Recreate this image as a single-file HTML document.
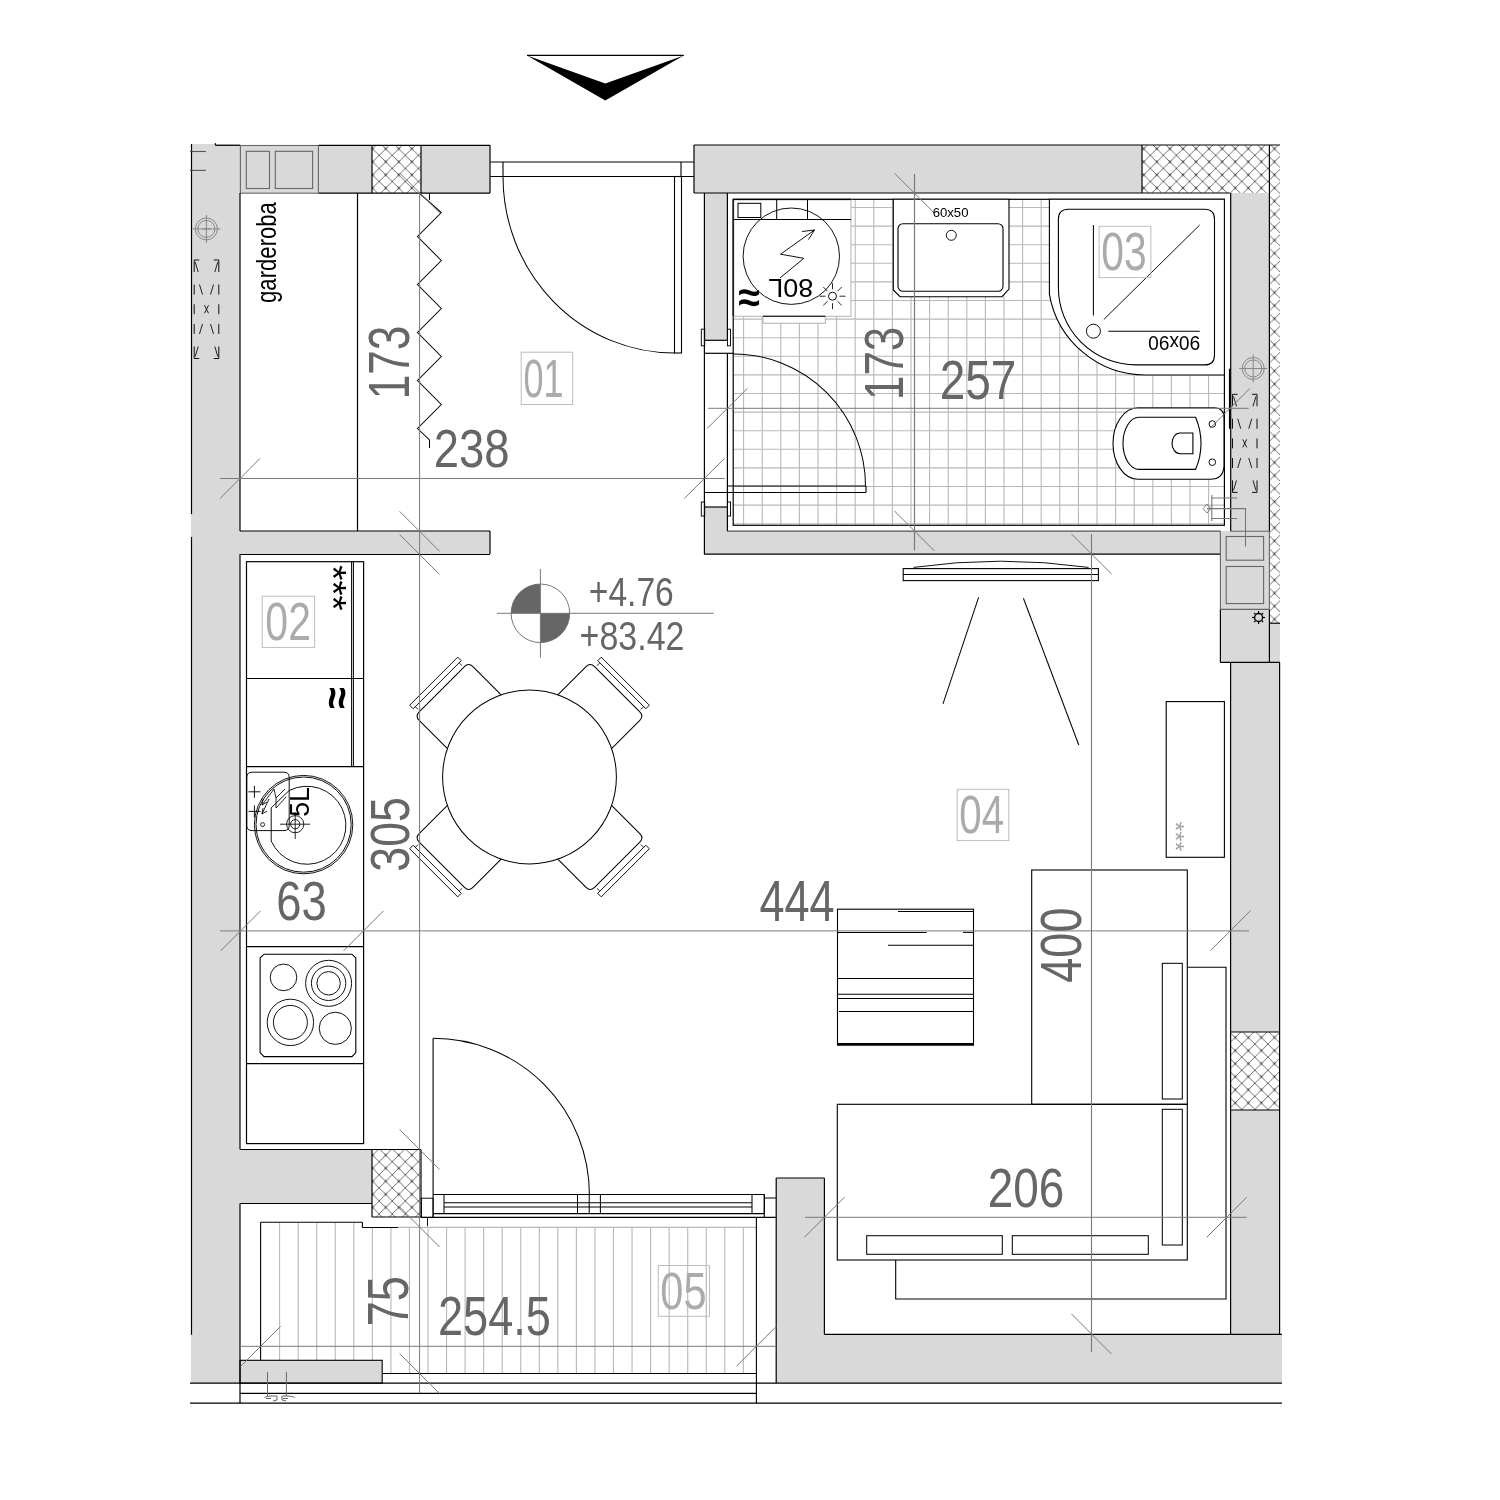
<!DOCTYPE html>
<html><head><meta charset="utf-8"><style>
html,body{margin:0;padding:0;background:#fff;width:1500px;height:1500px;overflow:hidden}
svg{display:block}
text{font-family:"Liberation Sans",sans-serif}
svg{will-change:transform}
</style></head><body>
<svg width="1500" height="1500" viewBox="0 0 1500 1500">
<defs>
<pattern id="hatch" x="6.67" y="5.03" width="13.07" height="13.07" patternUnits="userSpaceOnUse">
<path d="M-1,-1 L14.07,14.07 M14.07,-1 L-1,14.07" stroke="#555" stroke-width="0.85" fill="none"/>
<circle cx="0" cy="0" r="1.3" fill="#555"/><circle cx="13.07" cy="0" r="1.3" fill="#555"/><circle cx="0" cy="13.07" r="1.3" fill="#555"/><circle cx="13.07" cy="13.07" r="1.3" fill="#555"/>
</pattern>
</defs>
<rect x="0" y="0" width="1500" height="1500" fill="#fff"/>
<path d="M527,55.4 L605.3,100.4 L683.8,55.4 L605.3,83.5 Z" fill="#000"/>
<line x1="527.00" y1="55.40" x2="683.80" y2="55.40" stroke="#000" stroke-width="1.105"/>
<rect x="191.00" y="144.00" width="49.00" height="1239.00" fill="#d9d9d9"/>
<rect x="240.00" y="145.00" width="250.00" height="48.00" fill="#d9d9d9"/>
<rect x="694.00" y="145.00" width="586.00" height="48.00" fill="#d9d9d9"/>
<rect x="1230.00" y="193.00" width="39.00" height="338.00" fill="#d9d9d9"/>
<rect x="1220.00" y="531.00" width="49.00" height="131.00" fill="#d9d9d9"/>
<rect x="1269.00" y="623.00" width="11.00" height="39.00" fill="#d9d9d9"/>
<rect x="1230.00" y="662.00" width="50.00" height="672.00" fill="#d9d9d9"/>
<rect x="776.00" y="1334.00" width="506.00" height="49.00" fill="#d9d9d9"/>
<rect x="776.00" y="1178.00" width="48.00" height="156.00" fill="#d9d9d9"/>
<rect x="704.00" y="193.00" width="23.00" height="147.00" fill="#d9d9d9"/>
<rect x="704.00" y="507.00" width="23.00" height="47.00" fill="#d9d9d9"/>
<rect x="727.00" y="531.00" width="493.00" height="23.00" fill="#d9d9d9"/>
<rect x="240.00" y="531.00" width="250.00" height="23.00" fill="#d9d9d9"/>
<rect x="240.00" y="1149.50" width="132.00" height="54.00" fill="#d9d9d9"/>
<rect x="240.00" y="1360.00" width="142.00" height="23.00" fill="#d9d9d9"/>
<rect x="372.00" y="145.00" width="49.00" height="48.00" fill="#fff"/>
<rect x="372.00" y="145.00" width="49.00" height="48.00" fill="url(#hatch)"/>
<rect x="1142.00" y="145.00" width="127.00" height="48.00" fill="#fff"/>
<rect x="1142.00" y="145.00" width="127.00" height="48.00" fill="url(#hatch)"/>
<rect x="1269.00" y="145.00" width="11.00" height="478.00" fill="#fff"/>
<rect x="1269.00" y="145.00" width="11.00" height="478.00" fill="url(#hatch)"/>
<rect x="1230.00" y="1032.00" width="50.00" height="78.00" fill="#fff"/>
<rect x="1230.00" y="1032.00" width="50.00" height="78.00" fill="url(#hatch)"/>
<rect x="372.00" y="1149.50" width="49.00" height="67.50" fill="#fff"/>
<rect x="372.00" y="1149.50" width="49.00" height="67.50" fill="url(#hatch)"/>
<line x1="191.50" y1="144.00" x2="191.50" y2="514.00" stroke="#000" stroke-width="1.19"/>
<line x1="191.50" y1="537.00" x2="191.50" y2="1334.70" stroke="#000" stroke-width="1.19"/>
<line x1="215.30" y1="145.30" x2="240.40" y2="145.30" stroke="#000" stroke-width="1.19"/>
<line x1="318.40" y1="145.30" x2="490.00" y2="145.30" stroke="#000" stroke-width="1.19"/>
<line x1="490.00" y1="145.00" x2="490.00" y2="193.00" stroke="#000" stroke-width="1.19"/>
<line x1="215.30" y1="143.00" x2="215.30" y2="145.30" stroke="#000" stroke-width="1.02"/>
<line x1="318.40" y1="193.20" x2="490.00" y2="193.20" stroke="#000" stroke-width="1.19"/>
<rect x="240.40" y="145.50" width="78.00" height="47.70" fill="none" stroke="#666" stroke-width="1.1"/>
<rect x="246.30" y="151.30" width="23.20" height="37.20" fill="none" stroke="#666" stroke-width="1.1"/>
<rect x="275.30" y="151.30" width="37.30" height="37.20" fill="none" stroke="#666" stroke-width="1.1"/>
<line x1="372.00" y1="145.00" x2="372.00" y2="193.00" stroke="#000" stroke-width="1.19"/>
<line x1="421.00" y1="145.00" x2="421.00" y2="193.00" stroke="#000" stroke-width="1.19"/>
<line x1="190.00" y1="151.50" x2="205.90" y2="151.50" stroke="#555" stroke-width="1.1"/>
<line x1="190.00" y1="170.40" x2="205.90" y2="170.40" stroke="#555" stroke-width="1.1"/>
<line x1="240.00" y1="193.00" x2="240.00" y2="531.00" stroke="#000" stroke-width="1.19"/>
<line x1="240.00" y1="554.00" x2="240.00" y2="1149.50" stroke="#000" stroke-width="1.19"/>
<line x1="240.00" y1="1203.50" x2="240.00" y2="1403.00" stroke="#000" stroke-width="1.19"/>
<line x1="240.00" y1="531.00" x2="490.00" y2="531.00" stroke="#000" stroke-width="1.19"/>
<line x1="490.00" y1="531.00" x2="490.00" y2="554.00" stroke="#000" stroke-width="1.19"/>
<line x1="240.00" y1="554.50" x2="490.00" y2="554.50" stroke="#000" stroke-width="1.19"/>
<line x1="240.00" y1="1149.50" x2="421.00" y2="1149.50" stroke="#000" stroke-width="1.19"/>
<line x1="372.00" y1="1149.50" x2="372.00" y2="1217.00" stroke="#000" stroke-width="1.19"/>
<line x1="421.00" y1="1149.50" x2="421.00" y2="1217.00" stroke="#000" stroke-width="1.19"/>
<line x1="240.00" y1="1203.50" x2="372.00" y2="1203.50" stroke="#000" stroke-width="1.19"/>
<line x1="372.00" y1="1217.00" x2="421.00" y2="1217.00" stroke="#000" stroke-width="1.19"/>
<line x1="694.00" y1="145.00" x2="1280.00" y2="145.00" stroke="#000" stroke-width="1.19"/>
<line x1="694.00" y1="145.00" x2="694.00" y2="193.00" stroke="#000" stroke-width="1.19"/>
<line x1="694.00" y1="193.00" x2="1230.00" y2="193.00" stroke="#000" stroke-width="1.19"/>
<line x1="1142.00" y1="145.00" x2="1142.00" y2="193.00" stroke="#000" stroke-width="1.19"/>
<line x1="1269.40" y1="145.00" x2="1269.40" y2="531.20" stroke="#000" stroke-width="1.19"/>
<line x1="1269.40" y1="531.20" x2="1269.40" y2="609.40" stroke="#666" stroke-width="1.1"/>
<line x1="1269.40" y1="609.40" x2="1269.40" y2="662.40" stroke="#000" stroke-width="1.19"/>
<line x1="704.40" y1="193.00" x2="704.40" y2="554.50" stroke="#000" stroke-width="1.19"/>
<line x1="727.40" y1="193.00" x2="727.40" y2="340.30" stroke="#000" stroke-width="1.19"/>
<line x1="704.40" y1="340.30" x2="727.40" y2="340.30" stroke="#000" stroke-width="1.19"/>
<line x1="727.40" y1="353.30" x2="727.40" y2="507.00" stroke="#000" stroke-width="1.19"/>
<rect x="701.30" y="329.20" width="3.40" height="16.60" fill="none" stroke="#000" stroke-width="0.935"/>
<rect x="727.50" y="329.20" width="3.00" height="16.60" fill="none" stroke="#000" stroke-width="0.935"/>
<line x1="704.40" y1="353.30" x2="733.20" y2="353.30" stroke="#000" stroke-width="1.19"/>
<line x1="704.40" y1="507.00" x2="727.40" y2="507.00" stroke="#000" stroke-width="1.19"/>
<line x1="727.40" y1="507.00" x2="727.40" y2="531.20" stroke="#000" stroke-width="1.19"/>
<rect x="701.30" y="502.00" width="3.40" height="14.00" fill="none" stroke="#000" stroke-width="0.935"/>
<rect x="727.50" y="502.00" width="3.00" height="14.00" fill="none" stroke="#000" stroke-width="0.935"/>
<line x1="727.40" y1="531.20" x2="1220.40" y2="531.20" stroke="#555" stroke-width="1.2"/>
<line x1="704.40" y1="554.20" x2="1220.40" y2="554.20" stroke="#000" stroke-width="1.19"/>
<line x1="1230.70" y1="193.00" x2="1230.70" y2="531.20" stroke="#000" stroke-width="1.19"/>
<line x1="1220.40" y1="531.20" x2="1220.40" y2="609.40" stroke="#666" stroke-width="1.1"/>
<line x1="1220.40" y1="609.40" x2="1220.40" y2="662.40" stroke="#000" stroke-width="1.19"/>
<line x1="1220.40" y1="662.40" x2="1280.00" y2="662.40" stroke="#000" stroke-width="1.19"/>
<line x1="1220.40" y1="609.40" x2="1269.40" y2="609.40" stroke="#666" stroke-width="1.1"/>
<line x1="1230.70" y1="531.20" x2="1269.40" y2="531.20" stroke="#666" stroke-width="1.1"/>
<rect x="1226.20" y="536.50" width="37.40" height="23.70" fill="none" stroke="#666" stroke-width="1.1"/>
<rect x="1226.20" y="566.50" width="37.40" height="37.10" fill="none" stroke="#666" stroke-width="1.1"/>
<line x1="1269.40" y1="623.20" x2="1280.00" y2="623.20" stroke="#000" stroke-width="1.19"/>
<line x1="1230.60" y1="662.40" x2="1230.60" y2="1334.30" stroke="#000" stroke-width="1.19"/>
<line x1="1279.60" y1="662.40" x2="1279.60" y2="1334.30" stroke="#000" stroke-width="1.19"/>
<line x1="1230.60" y1="1032.00" x2="1279.60" y2="1032.00" stroke="#000" stroke-width="1.19"/>
<line x1="1230.60" y1="1110.00" x2="1279.60" y2="1110.00" stroke="#000" stroke-width="1.19"/>
<line x1="824.40" y1="1334.30" x2="1282.00" y2="1334.30" stroke="#000" stroke-width="1.19"/>
<line x1="824.40" y1="1178.00" x2="824.40" y2="1334.30" stroke="#000" stroke-width="1.19"/>
<line x1="776.20" y1="1178.00" x2="824.40" y2="1178.00" stroke="#000" stroke-width="1.19"/>
<line x1="776.20" y1="1178.00" x2="776.20" y2="1383.20" stroke="#000" stroke-width="1.19"/>
<line x1="190.00" y1="1383.20" x2="1282.00" y2="1383.20" stroke="#000" stroke-width="1.19"/>
<line x1="190.00" y1="1403.20" x2="1282.00" y2="1403.20" stroke="#000" stroke-width="1.19"/>
<line x1="240.00" y1="1393.30" x2="756.40" y2="1393.30" stroke="#000" stroke-width="1.19"/>
<line x1="743.60" y1="199.30" x2="743.60" y2="525.30" stroke="#b8b8b8" stroke-width="1.1"/>
<line x1="762.20" y1="199.30" x2="762.20" y2="525.30" stroke="#b8b8b8" stroke-width="1.1"/>
<line x1="780.80" y1="199.30" x2="780.80" y2="525.30" stroke="#b8b8b8" stroke-width="1.1"/>
<line x1="799.40" y1="199.30" x2="799.40" y2="525.30" stroke="#b8b8b8" stroke-width="1.1"/>
<line x1="818.00" y1="199.30" x2="818.00" y2="525.30" stroke="#b8b8b8" stroke-width="1.1"/>
<line x1="836.60" y1="199.30" x2="836.60" y2="525.30" stroke="#b8b8b8" stroke-width="1.1"/>
<line x1="855.20" y1="199.30" x2="855.20" y2="525.30" stroke="#b8b8b8" stroke-width="1.1"/>
<line x1="873.80" y1="199.30" x2="873.80" y2="525.30" stroke="#b8b8b8" stroke-width="1.1"/>
<line x1="892.40" y1="199.30" x2="892.40" y2="525.30" stroke="#b8b8b8" stroke-width="1.1"/>
<line x1="911.00" y1="199.30" x2="911.00" y2="525.30" stroke="#b8b8b8" stroke-width="1.1"/>
<line x1="929.60" y1="199.30" x2="929.60" y2="525.30" stroke="#b8b8b8" stroke-width="1.1"/>
<line x1="948.20" y1="199.30" x2="948.20" y2="525.30" stroke="#b8b8b8" stroke-width="1.1"/>
<line x1="966.80" y1="199.30" x2="966.80" y2="525.30" stroke="#b8b8b8" stroke-width="1.1"/>
<line x1="985.40" y1="199.30" x2="985.40" y2="525.30" stroke="#b8b8b8" stroke-width="1.1"/>
<line x1="1004.00" y1="199.30" x2="1004.00" y2="525.30" stroke="#b8b8b8" stroke-width="1.1"/>
<line x1="1022.60" y1="199.30" x2="1022.60" y2="525.30" stroke="#b8b8b8" stroke-width="1.1"/>
<line x1="1041.20" y1="199.30" x2="1041.20" y2="525.30" stroke="#b8b8b8" stroke-width="1.1"/>
<line x1="1059.80" y1="199.30" x2="1059.80" y2="525.30" stroke="#b8b8b8" stroke-width="1.1"/>
<line x1="1078.40" y1="199.30" x2="1078.40" y2="525.30" stroke="#b8b8b8" stroke-width="1.1"/>
<line x1="1097.00" y1="199.30" x2="1097.00" y2="525.30" stroke="#b8b8b8" stroke-width="1.1"/>
<line x1="1115.60" y1="199.30" x2="1115.60" y2="525.30" stroke="#b8b8b8" stroke-width="1.1"/>
<line x1="1134.20" y1="199.30" x2="1134.20" y2="525.30" stroke="#b8b8b8" stroke-width="1.1"/>
<line x1="1152.80" y1="199.30" x2="1152.80" y2="525.30" stroke="#b8b8b8" stroke-width="1.1"/>
<line x1="1171.40" y1="199.30" x2="1171.40" y2="525.30" stroke="#b8b8b8" stroke-width="1.1"/>
<line x1="1190.00" y1="199.30" x2="1190.00" y2="525.30" stroke="#b8b8b8" stroke-width="1.1"/>
<line x1="1208.60" y1="199.30" x2="1208.60" y2="525.30" stroke="#b8b8b8" stroke-width="1.1"/>
<line x1="733.20" y1="207.50" x2="1224.40" y2="207.50" stroke="#b8b8b8" stroke-width="1.1"/>
<line x1="733.20" y1="226.10" x2="1224.40" y2="226.10" stroke="#b8b8b8" stroke-width="1.1"/>
<line x1="733.20" y1="244.70" x2="1224.40" y2="244.70" stroke="#b8b8b8" stroke-width="1.1"/>
<line x1="733.20" y1="263.30" x2="1224.40" y2="263.30" stroke="#b8b8b8" stroke-width="1.1"/>
<line x1="733.20" y1="281.90" x2="1224.40" y2="281.90" stroke="#b8b8b8" stroke-width="1.1"/>
<line x1="733.20" y1="300.50" x2="1224.40" y2="300.50" stroke="#b8b8b8" stroke-width="1.1"/>
<line x1="733.20" y1="319.10" x2="1224.40" y2="319.10" stroke="#b8b8b8" stroke-width="1.1"/>
<line x1="733.20" y1="337.70" x2="1224.40" y2="337.70" stroke="#b8b8b8" stroke-width="1.1"/>
<line x1="733.20" y1="356.30" x2="1224.40" y2="356.30" stroke="#b8b8b8" stroke-width="1.1"/>
<line x1="733.20" y1="374.90" x2="1224.40" y2="374.90" stroke="#b8b8b8" stroke-width="1.1"/>
<line x1="733.20" y1="393.50" x2="1224.40" y2="393.50" stroke="#b8b8b8" stroke-width="1.1"/>
<line x1="733.20" y1="412.10" x2="1224.40" y2="412.10" stroke="#b8b8b8" stroke-width="1.1"/>
<line x1="733.20" y1="430.70" x2="1224.40" y2="430.70" stroke="#b8b8b8" stroke-width="1.1"/>
<line x1="733.20" y1="449.30" x2="1224.40" y2="449.30" stroke="#b8b8b8" stroke-width="1.1"/>
<line x1="733.20" y1="467.90" x2="1224.40" y2="467.90" stroke="#b8b8b8" stroke-width="1.1"/>
<line x1="733.20" y1="486.50" x2="1224.40" y2="486.50" stroke="#b8b8b8" stroke-width="1.1"/>
<line x1="733.20" y1="505.10" x2="1224.40" y2="505.10" stroke="#b8b8b8" stroke-width="1.1"/>
<line x1="733.20" y1="523.70" x2="1224.40" y2="523.70" stroke="#b8b8b8" stroke-width="1.1"/>
<rect x="733.20" y="199.30" width="491.20" height="326.00" fill="none" stroke="#000" stroke-width="1.19"/>
<rect x="733.80" y="199.90" width="117.20" height="116.40" fill="#fff" stroke="#b8b8b8" stroke-width="1.1"/>
<line x1="733.20" y1="199.30" x2="851.00" y2="199.30" stroke="#000" stroke-width="1.19"/>
<line x1="733.20" y1="199.30" x2="733.20" y2="316.30" stroke="#000" stroke-width="1.19"/>
<line x1="733.20" y1="219.50" x2="851.00" y2="219.50" stroke="#000" stroke-width="1.02"/>
<rect x="738.00" y="203.30" width="22.80" height="14.20" fill="none" stroke="#000" stroke-width="1.02"/>
<line x1="776.70" y1="199.30" x2="776.70" y2="219.50" stroke="#000" stroke-width="1.02"/>
<line x1="807.50" y1="199.30" x2="807.50" y2="219.50" stroke="#000" stroke-width="1.02"/>
<circle cx="791.30" cy="256.20" r="48.20" fill="none" stroke="#000" stroke-width="0.935"/>
<path d="M780,278 L803.8,258.3 L780.5,254.2 L814.5,230 M814.5,230 L802,231.5 M814.5,230 L808.5,239.5" fill="none" stroke="#000" stroke-width="0.935"/>
<rect x="763.00" y="316.30" width="62.30" height="7.00" fill="#fff" stroke="#b8b8b8" stroke-width="1.1"/>
<line x1="763.00" y1="316.30" x2="825.30" y2="316.30" stroke="#000" stroke-width="1.02"/>
<circle cx="832.50" cy="296.20" r="4.00" fill="none" stroke="#000" stroke-width="0.935"/>
<line x1="839.50" y1="296.20" x2="845.50" y2="296.20" stroke="#000" stroke-width="0.85"/>
<line x1="837.45" y1="301.15" x2="841.69" y2="305.39" stroke="#000" stroke-width="0.85"/>
<line x1="832.50" y1="303.20" x2="832.50" y2="309.20" stroke="#000" stroke-width="0.85"/>
<line x1="827.55" y1="301.15" x2="823.31" y2="305.39" stroke="#000" stroke-width="0.85"/>
<line x1="825.50" y1="296.20" x2="819.50" y2="296.20" stroke="#000" stroke-width="0.85"/>
<line x1="827.55" y1="291.25" x2="823.31" y2="287.01" stroke="#000" stroke-width="0.85"/>
<line x1="832.50" y1="289.20" x2="832.50" y2="283.20" stroke="#000" stroke-width="0.85"/>
<line x1="837.45" y1="291.25" x2="841.69" y2="287.01" stroke="#000" stroke-width="0.85"/>
<path d="M893.3,199.3 H1009 V289 L1002,296.7 H900 L893.3,290 Z" fill="#fff" stroke="#000" stroke-width="1.105"/>
<rect x="898.00" y="223.70" width="105.00" height="67.60" fill="#fff" stroke="#000" stroke-width="1.105" rx="5"/>
<circle cx="951.30" cy="235.30" r="5.00" fill="none" stroke="#000" stroke-width="0.935"/>
<path d="M1049.4,199.3 H1224.4 V375 H1145.5 A97.6 97.6 0 0 1 1049.4 294.3 Z" fill="#fff" stroke="#000" stroke-width="1.105"/>
<path d="M1068.4,209.2 H1204.5 Q1214.5,209.2 1214.5,219.2 V354.9 Q1214.5,364.9 1204.5,364.9 H1136.3 A77.9 77.2 0 0 1 1058.4 287.7 V219.2 Q1058.4,209.2 1068.4,209.2 Z" fill="#fff" stroke="#000" stroke-width="1.105"/>
<line x1="1093.40" y1="225.00" x2="1093.40" y2="315.40" stroke="#000" stroke-width="1.02"/>
<circle cx="1093.40" cy="331.20" r="7.00" fill="none" stroke="#000" stroke-width="0.935"/>
<line x1="1108.30" y1="331.20" x2="1199.70" y2="331.20" stroke="#000" stroke-width="1.02"/>
<line x1="1103.80" y1="319.50" x2="1199.70" y2="225.00" stroke="#000" stroke-width="0.935"/>
<path d="M1138,407.8 H1214 Q1224,407.8 1224,418 V465 Q1224,479.3 1210,479.3 H1138 A25 35.75 0 0 1 1138 407.8 Z" fill="#fff" stroke="#000" stroke-width="1.105"/>
<path d="M1139,417.3 H1195.6 Q1201,430 1201,443.5 Q1201,457 1195.6,469.4 H1139 A16 26 0 0 1 1139 417.3 Z" fill="none" stroke="#000" stroke-width="1.105"/>
<path d="M1192.9,433 H1180 A8 10.35 0 0 0 1180 453.7 H1192.9 Z" fill="none" stroke="#000" stroke-width="1.105"/>
<circle cx="1212.30" cy="424.00" r="3.30" fill="none" stroke="#000" stroke-width="0.935"/>
<circle cx="1212.30" cy="462.20" r="3.30" fill="none" stroke="#000" stroke-width="0.935"/>
<path d="M733.2,354 A132 132 0 0 1 865.5 486" fill="none" stroke="#000" stroke-width="1.02"/>
<line x1="727.40" y1="486.00" x2="866.00" y2="486.00" stroke="#000" stroke-width="1.105"/>
<line x1="704.40" y1="492.50" x2="866.00" y2="492.50" stroke="#000" stroke-width="1.105"/>
<line x1="866.00" y1="486.00" x2="866.00" y2="492.50" stroke="#000" stroke-width="1.105"/>
<path d="M1211.8,495 V521 M1211.8,498 H1237 M1211.8,518.5 H1237 M1207,508.6 H1245.5 V546.4" fill="none" stroke="#777" stroke-width="1.1"/>
<path d="M1207,504 L1203,508.6 L1207,513 L1211,508.6 Z" fill="none" stroke="#777" stroke-width="0.9"/>
<circle cx="206.40" cy="228.90" r="11.00" fill="none" stroke="#888" stroke-width="1.0"/>
<circle cx="206.40" cy="228.90" r="8.50" fill="none" stroke="#888" stroke-width="1.0"/>
<line x1="192.40" y1="228.90" x2="220.40" y2="228.90" stroke="#888" stroke-width="1.0"/>
<line x1="206.40" y1="214.90" x2="206.40" y2="242.90" stroke="#888" stroke-width="1.0"/>
<line x1="202.40" y1="228.90" x2="210.40" y2="228.90" stroke="#888" stroke-width="1.0"/>
<circle cx="1253.20" cy="368.50" r="11.00" fill="none" stroke="#888" stroke-width="1.0"/>
<circle cx="1253.20" cy="368.50" r="8.50" fill="none" stroke="#888" stroke-width="1.0"/>
<line x1="1239.20" y1="368.50" x2="1267.20" y2="368.50" stroke="#888" stroke-width="1.0"/>
<line x1="1253.20" y1="354.50" x2="1253.20" y2="382.50" stroke="#888" stroke-width="1.0"/>
<line x1="1249.20" y1="368.50" x2="1257.20" y2="368.50" stroke="#888" stroke-width="1.0"/>
<line x1="1229.60" y1="368.70" x2="1229.60" y2="428.70" stroke="#000" stroke-width="1.36"/>
<path d="M194.2,272 V260 H199.2 M218.8,272 V260 H213.8 M194.2,346.5 V358.5 H199.2 M218.8,346.5 V358.5 H213.8" fill="none" stroke="#000" stroke-width="0.935"/>
<line x1="194.20" y1="284.55" x2="194.20" y2="294.55" stroke="#000" stroke-width="0.935"/>
<line x1="218.80" y1="284.55" x2="218.80" y2="294.55" stroke="#000" stroke-width="0.935"/>
<line x1="194.20" y1="304.25" x2="194.20" y2="314.25" stroke="#000" stroke-width="0.935"/>
<line x1="218.80" y1="304.25" x2="218.80" y2="314.25" stroke="#000" stroke-width="0.935"/>
<line x1="194.20" y1="323.95" x2="194.20" y2="333.95" stroke="#000" stroke-width="0.935"/>
<line x1="218.80" y1="323.95" x2="218.80" y2="333.95" stroke="#000" stroke-width="0.935"/>
<line x1="195.20" y1="262.00" x2="198.20" y2="272.00" stroke="#000" stroke-width="0.85"/>
<line x1="217.80" y1="262.00" x2="214.80" y2="272.00" stroke="#000" stroke-width="0.85"/>
<line x1="195.20" y1="356.50" x2="198.20" y2="346.50" stroke="#000" stroke-width="0.85"/>
<line x1="217.80" y1="356.50" x2="214.80" y2="346.50" stroke="#000" stroke-width="0.85"/>
<line x1="199.50" y1="284.55" x2="202.50" y2="294.55" stroke="#000" stroke-width="0.85"/>
<line x1="213.50" y1="284.55" x2="210.50" y2="294.55" stroke="#000" stroke-width="0.85"/>
<line x1="204.50" y1="305.25" x2="208.50" y2="313.25" stroke="#000" stroke-width="0.85"/>
<line x1="208.50" y1="305.25" x2="204.50" y2="313.25" stroke="#000" stroke-width="0.85"/>
<line x1="202.50" y1="323.95" x2="199.50" y2="333.95" stroke="#000" stroke-width="0.85"/>
<line x1="210.50" y1="323.95" x2="213.50" y2="333.95" stroke="#000" stroke-width="0.85"/>
<path d="M1232.5,406.3 V394.3 H1237.5 M1257,406.3 V394.3 H1252 M1232.5,480.4 V492.4 H1237.5 M1257,480.4 V492.4 H1252" fill="none" stroke="#000" stroke-width="0.935"/>
<line x1="1232.50" y1="418.73" x2="1232.50" y2="428.73" stroke="#000" stroke-width="0.935"/>
<line x1="1257.00" y1="418.73" x2="1257.00" y2="428.73" stroke="#000" stroke-width="0.935"/>
<line x1="1232.50" y1="438.35" x2="1232.50" y2="448.35" stroke="#000" stroke-width="0.935"/>
<line x1="1257.00" y1="438.35" x2="1257.00" y2="448.35" stroke="#000" stroke-width="0.935"/>
<line x1="1232.50" y1="457.97" x2="1232.50" y2="467.97" stroke="#000" stroke-width="0.935"/>
<line x1="1257.00" y1="457.97" x2="1257.00" y2="467.97" stroke="#000" stroke-width="0.935"/>
<line x1="1233.50" y1="396.30" x2="1236.50" y2="406.30" stroke="#000" stroke-width="0.85"/>
<line x1="1256.00" y1="396.30" x2="1253.00" y2="406.30" stroke="#000" stroke-width="0.85"/>
<line x1="1233.50" y1="490.40" x2="1236.50" y2="480.40" stroke="#000" stroke-width="0.85"/>
<line x1="1256.00" y1="490.40" x2="1253.00" y2="480.40" stroke="#000" stroke-width="0.85"/>
<line x1="1237.75" y1="418.73" x2="1240.75" y2="428.73" stroke="#000" stroke-width="0.85"/>
<line x1="1251.75" y1="418.73" x2="1248.75" y2="428.73" stroke="#000" stroke-width="0.85"/>
<line x1="1242.75" y1="439.35" x2="1246.75" y2="447.35" stroke="#000" stroke-width="0.85"/>
<line x1="1246.75" y1="439.35" x2="1242.75" y2="447.35" stroke="#000" stroke-width="0.85"/>
<line x1="1240.75" y1="457.97" x2="1237.75" y2="467.97" stroke="#000" stroke-width="0.85"/>
<line x1="1248.75" y1="457.97" x2="1251.75" y2="467.97" stroke="#000" stroke-width="0.85"/>
<circle cx="1258.60" cy="617.50" r="4.00" fill="none" stroke="#000" stroke-width="1.36"/>
<line x1="1262.60" y1="617.50" x2="1265.10" y2="617.50" stroke="#000" stroke-width="1.19"/>
<line x1="1261.43" y1="620.33" x2="1263.20" y2="622.10" stroke="#000" stroke-width="1.19"/>
<line x1="1258.60" y1="621.50" x2="1258.60" y2="624.00" stroke="#000" stroke-width="1.19"/>
<line x1="1255.77" y1="620.33" x2="1254.00" y2="622.10" stroke="#000" stroke-width="1.19"/>
<line x1="1254.60" y1="617.50" x2="1252.10" y2="617.50" stroke="#000" stroke-width="1.19"/>
<line x1="1255.77" y1="614.67" x2="1254.00" y2="612.90" stroke="#000" stroke-width="1.19"/>
<line x1="1258.60" y1="613.50" x2="1258.60" y2="611.00" stroke="#000" stroke-width="1.19"/>
<line x1="1261.43" y1="614.67" x2="1263.20" y2="612.90" stroke="#000" stroke-width="1.19"/>
<line x1="490.50" y1="162.00" x2="694.00" y2="162.00" stroke="#000" stroke-width="1.105"/>
<line x1="490.50" y1="176.50" x2="694.00" y2="176.50" stroke="#000" stroke-width="1.105"/>
<line x1="503.00" y1="162.00" x2="503.00" y2="176.50" stroke="#000" stroke-width="1.105"/>
<line x1="681.00" y1="162.00" x2="681.00" y2="176.50" stroke="#000" stroke-width="1.105"/>
<rect x="674.50" y="176.50" width="7.00" height="176.50" fill="none" stroke="#000" stroke-width="1.105"/>
<path d="M503,176.5 A171.5 176.5 0 0 0 674.5 353" fill="none" stroke="#000" stroke-width="1.02"/>
<line x1="357.50" y1="193.00" x2="357.50" y2="531.00" stroke="#000" stroke-width="1.19"/>
<path d="M420,193.75 L441.3,212.5 L417.5,236.5 L441.3,260.5 L417.5,284.5 L441.3,308.5 L417.5,332.5 L441.3,356.5 L417.5,380.5 L441.3,404.5 L417.5,428.5 L429.5,440 L429.5,448" fill="none" stroke="#000" stroke-width="1.02"/>
<line x1="429.50" y1="193.00" x2="429.50" y2="200.00" stroke="#000" stroke-width="1.02"/>
<rect x="246.50" y="561.70" width="117.10" height="581.90" fill="none" stroke="#000" stroke-width="1.19"/>
<line x1="351.60" y1="561.70" x2="351.60" y2="766.60" stroke="#000" stroke-width="1.02"/>
<line x1="353.40" y1="561.70" x2="353.40" y2="766.60" stroke="#000" stroke-width="1.02"/>
<line x1="246.50" y1="678.50" x2="363.60" y2="678.50" stroke="#000" stroke-width="1.105"/>
<line x1="246.50" y1="766.60" x2="363.60" y2="766.60" stroke="#000" stroke-width="1.105"/>
<line x1="246.50" y1="946.60" x2="363.60" y2="946.60" stroke="#000" stroke-width="1.105"/>
<line x1="246.50" y1="1063.60" x2="363.60" y2="1063.60" stroke="#000" stroke-width="1.105"/>
<circle cx="303.60" cy="824.60" r="49.20" fill="none" stroke="#000" stroke-width="0.935"/>
<circle cx="303.60" cy="824.60" r="47.60" fill="none" stroke="#000" stroke-width="0.935"/>
<path d="M289.2,790.5 A39 39 0 1 1 271.2 841 V807.8 L289.2,790.5" fill="none" stroke="#000" stroke-width="0.935"/>
<path d="M252,772.2 H284 Q289.2,772.2 289.2,777.5 V825.5 Q289.2,830.6 284,830.6 H252 Q246.8,830.6 246.8,825.5 V777.5 Q246.8,772.2 252,772.2 Z" fill="none" stroke="#000" stroke-width="0.935"/>
<circle cx="295.20" cy="824.20" r="4.60" fill="none" stroke="#000" stroke-width="0.85"/>
<circle cx="295.20" cy="824.20" r="8.60" fill="none" stroke="#000" stroke-width="0.85"/>
<line x1="280.00" y1="824.20" x2="310.00" y2="824.20" stroke="#000" stroke-width="0.85"/>
<line x1="295.20" y1="812.20" x2="295.20" y2="839.00" stroke="#000" stroke-width="0.85"/>
<line x1="248.50" y1="791.80" x2="260.50" y2="791.80" stroke="#000" stroke-width="0.935"/>
<line x1="254.40" y1="785.80" x2="254.40" y2="797.80" stroke="#000" stroke-width="0.935"/>
<line x1="248.50" y1="811.40" x2="260.50" y2="811.40" stroke="#000" stroke-width="0.935"/>
<line x1="254.40" y1="805.40" x2="254.40" y2="817.40" stroke="#000" stroke-width="0.935"/>
<circle cx="262.60" cy="824.60" r="2.00" fill="none" stroke="#000" stroke-width="0.85"/>
<path d="M274,789 L262,805 M262,805 L263,799 M262,805 L267,802 M274,789 L276,798 L285,789 M269,799 L262,814 M262,814 L263,808 M262,814 L267,811 M276,798 L276,808 L286,797" fill="none" stroke="#000" stroke-width="0.85"/>
<path d="M264,954.2 H352 L355.8,958 V1052.6 L352,1056.6 H264 L260.1,1052.6 V958 Z" fill="none" stroke="#000" stroke-width="1.105"/>
<circle cx="283.50" cy="977.40" r="13.30" fill="none" stroke="#000" stroke-width="0.935"/>
<circle cx="328.60" cy="983.30" r="23.00" fill="none" stroke="#000" stroke-width="0.935"/>
<circle cx="328.60" cy="983.30" r="17.20" fill="none" stroke="#000" stroke-width="0.935"/>
<circle cx="328.60" cy="983.30" r="11.70" fill="none" stroke="#000" stroke-width="0.935"/>
<circle cx="290.40" cy="1022.40" r="23.20" fill="none" stroke="#000" stroke-width="0.935"/>
<circle cx="290.40" cy="1022.40" r="17.00" fill="none" stroke="#000" stroke-width="0.935"/>
<circle cx="335.30" cy="1028.30" r="16.10" fill="none" stroke="#000" stroke-width="0.935"/>
<path d="M460.20,761.44 L419.19,720.43 Q414.95,716.19 419.19,711.95 L464.45,666.69 Q468.69,662.45 472.93,666.69 L513.94,707.70" fill="none" stroke="#000" stroke-width="1.02"/>
<path d="M413.18,708.76 L409.65,705.23 L457.73,657.15 L461.26,660.68 Z" fill="#fff" stroke="#000" stroke-width="0.935"/>
<line x1="418.13" y1="709.47" x2="415.30" y2="706.64" stroke="#000" stroke-width="0.85"/>
<line x1="461.97" y1="665.63" x2="459.14" y2="662.80" stroke="#000" stroke-width="0.85"/>
<path d="M545.06,707.70 L586.07,666.69 Q590.31,662.45 594.55,666.69 L639.81,711.95 Q644.05,716.19 639.81,720.43 L598.80,761.44" fill="none" stroke="#000" stroke-width="1.02"/>
<path d="M597.74,660.68 L601.27,657.15 L649.35,705.23 L645.82,708.76 Z" fill="#fff" stroke="#000" stroke-width="0.935"/>
<line x1="597.03" y1="665.63" x2="599.86" y2="662.80" stroke="#000" stroke-width="0.85"/>
<line x1="640.87" y1="709.47" x2="643.70" y2="706.64" stroke="#000" stroke-width="0.85"/>
<path d="M598.80,792.56 L639.81,833.57 Q644.05,837.81 639.81,842.05 L594.55,887.31 Q590.31,891.55 586.07,887.31 L545.06,846.30" fill="none" stroke="#000" stroke-width="1.02"/>
<path d="M645.82,845.24 L649.35,848.77 L601.27,896.85 L597.74,893.32 Z" fill="#fff" stroke="#000" stroke-width="0.935"/>
<line x1="640.87" y1="844.53" x2="643.70" y2="847.36" stroke="#000" stroke-width="0.85"/>
<line x1="597.03" y1="888.37" x2="599.86" y2="891.20" stroke="#000" stroke-width="0.85"/>
<path d="M513.94,846.30 L472.93,887.31 Q468.69,891.55 464.45,887.31 L419.19,842.05 Q414.95,837.81 419.19,833.57 L460.20,792.56" fill="none" stroke="#000" stroke-width="1.02"/>
<path d="M461.26,893.32 L457.73,896.85 L409.65,848.77 L413.18,845.24 Z" fill="#fff" stroke="#000" stroke-width="0.935"/>
<line x1="461.97" y1="888.37" x2="459.14" y2="891.20" stroke="#000" stroke-width="0.85"/>
<line x1="418.13" y1="844.53" x2="415.30" y2="847.36" stroke="#000" stroke-width="0.85"/>
<circle cx="529.50" cy="777.00" r="86.90" fill="#fff" stroke="#000" stroke-width="1.02"/>
<circle cx="540.40" cy="613.30" r="29.30" fill="#fff" stroke="#777" stroke-width="1.0"/>
<path d="M540.4,613.3 V584 A29.3 29.3 0 0 0 511.1 613.3 Z" fill="#666666"/>
<path d="M540.4,613.3 V642.6 A29.3 29.3 0 0 0 569.7 613.3 Z" fill="#666666"/>
<line x1="540.40" y1="569.00" x2="540.40" y2="657.70" stroke="#777" stroke-width="1.0"/>
<line x1="497.00" y1="613.30" x2="713.60" y2="613.30" stroke="#777" stroke-width="1.0"/>
<rect x="903.20" y="568.60" width="195.20" height="12.00" fill="none" stroke="#000" stroke-width="1.105"/>
<line x1="903.20" y1="574.40" x2="1098.40" y2="574.40" stroke="#000" stroke-width="1.02"/>
<path d="M913.6,567.4 Q1000,555 1088.6,567.4" fill="none" stroke="#000" stroke-width="0.935"/>
<line x1="978.60" y1="597.40" x2="943.00" y2="703.80" stroke="#000" stroke-width="1.02"/>
<line x1="1023.40" y1="598.20" x2="1078.80" y2="745.00" stroke="#000" stroke-width="1.02"/>
<rect x="1166.20" y="701.60" width="58.20" height="155.70" fill="none" stroke="#000" stroke-width="1.105"/>
<rect x="1031.70" y="870.00" width="155.60" height="234.30" fill="none" stroke="#000" stroke-width="1.105"/>
<rect x="837.30" y="1104.30" width="350.00" height="155.70" fill="none" stroke="#000" stroke-width="1.105"/>
<rect x="1162.30" y="963.30" width="20.00" height="135.70" fill="none" stroke="#000" stroke-width="1.02"/>
<rect x="1162.30" y="1109.30" width="20.00" height="135.70" fill="none" stroke="#000" stroke-width="1.02"/>
<rect x="866.70" y="1235.70" width="135.60" height="18.60" fill="none" stroke="#000" stroke-width="1.02"/>
<rect x="1012.30" y="1235.70" width="136.00" height="18.60" fill="none" stroke="#000" stroke-width="1.02"/>
<path d="M1187.3,967.3 H1226 V1299 H895.7 V1260" fill="none" stroke="#000" stroke-width="1.105"/>
<rect x="837.50" y="909.20" width="136.00" height="136.00" fill="none" stroke="#000" stroke-width="1.105"/>
<line x1="898.00" y1="911.60" x2="973.50" y2="911.60" stroke="#000" stroke-width="1.02"/>
<line x1="837.50" y1="932.40" x2="926.80" y2="932.40" stroke="#000" stroke-width="1.02"/>
<line x1="963.00" y1="932.40" x2="973.50" y2="932.40" stroke="#000" stroke-width="1.02"/>
<line x1="888.00" y1="945.20" x2="973.50" y2="945.20" stroke="#000" stroke-width="1.02"/>
<line x1="837.50" y1="978.50" x2="973.50" y2="978.50" stroke="#000" stroke-width="1.02"/>
<line x1="837.50" y1="994.30" x2="973.50" y2="994.30" stroke="#000" stroke-width="1.02"/>
<line x1="837.50" y1="998.50" x2="973.50" y2="998.50" stroke="#000" stroke-width="1.02"/>
<line x1="839.00" y1="1011.60" x2="973.50" y2="1011.60" stroke="#000" stroke-width="1.02"/>
<line x1="837.50" y1="1044.00" x2="973.50" y2="1044.00" stroke="#000" stroke-width="1.87"/>
<line x1="433.10" y1="1038.20" x2="433.10" y2="1217.40" stroke="#000" stroke-width="1.105"/>
<path d="M433.1,1038.2 A156.3 156.3 0 0 1 589.4 1194.5" fill="none" stroke="#000" stroke-width="1.02"/>
<line x1="433.10" y1="1194.50" x2="764.30" y2="1194.50" stroke="#000" stroke-width="1.105"/>
<line x1="444.00" y1="1202.80" x2="752.00" y2="1202.80" stroke="#000" stroke-width="1.02"/>
<line x1="444.00" y1="1206.90" x2="752.00" y2="1206.90" stroke="#000" stroke-width="1.02"/>
<line x1="433.10" y1="1213.60" x2="764.30" y2="1213.60" stroke="#000" stroke-width="1.105"/>
<line x1="421.00" y1="1217.40" x2="776.20" y2="1217.40" stroke="#000" stroke-width="1.105"/>
<line x1="764.30" y1="1198.00" x2="776.20" y2="1198.00" stroke="#000" stroke-width="1.02"/>
<line x1="444.00" y1="1194.50" x2="444.00" y2="1213.60" stroke="#000" stroke-width="1.02"/>
<line x1="577.50" y1="1194.50" x2="577.50" y2="1213.60" stroke="#000" stroke-width="1.02"/>
<line x1="589.20" y1="1194.50" x2="589.20" y2="1213.60" stroke="#000" stroke-width="1.02"/>
<line x1="600.40" y1="1194.50" x2="600.40" y2="1213.60" stroke="#000" stroke-width="1.02"/>
<line x1="752.00" y1="1194.50" x2="752.00" y2="1213.60" stroke="#000" stroke-width="1.02"/>
<line x1="764.30" y1="1194.50" x2="764.30" y2="1213.60" stroke="#000" stroke-width="1.02"/>
<line x1="764.30" y1="1194.50" x2="764.30" y2="1217.40" stroke="#000" stroke-width="1.105"/>
<rect x="421.40" y="1198.20" width="11.70" height="19.20" fill="none" stroke="#000" stroke-width="0.935"/>
<line x1="427.50" y1="1217.40" x2="427.50" y2="1226.20" stroke="#000" stroke-width="0.935"/>
<line x1="279.60" y1="1222.20" x2="279.60" y2="1360.30" stroke="#b8b8b8" stroke-width="1.1"/>
<line x1="298.15" y1="1222.20" x2="298.15" y2="1360.30" stroke="#b8b8b8" stroke-width="1.1"/>
<line x1="316.70" y1="1222.20" x2="316.70" y2="1360.30" stroke="#b8b8b8" stroke-width="1.1"/>
<line x1="335.25" y1="1222.20" x2="335.25" y2="1360.30" stroke="#b8b8b8" stroke-width="1.1"/>
<line x1="353.80" y1="1222.20" x2="353.80" y2="1360.30" stroke="#b8b8b8" stroke-width="1.1"/>
<line x1="372.35" y1="1227.40" x2="372.35" y2="1360.30" stroke="#b8b8b8" stroke-width="1.1"/>
<line x1="390.90" y1="1227.40" x2="390.90" y2="1373.50" stroke="#b8b8b8" stroke-width="1.1"/>
<line x1="409.45" y1="1227.40" x2="409.45" y2="1373.50" stroke="#b8b8b8" stroke-width="1.1"/>
<line x1="428.00" y1="1227.40" x2="428.00" y2="1373.50" stroke="#b8b8b8" stroke-width="1.1"/>
<line x1="446.55" y1="1227.40" x2="446.55" y2="1373.50" stroke="#b8b8b8" stroke-width="1.1"/>
<line x1="465.10" y1="1227.40" x2="465.10" y2="1373.50" stroke="#b8b8b8" stroke-width="1.1"/>
<line x1="483.65" y1="1227.40" x2="483.65" y2="1373.50" stroke="#b8b8b8" stroke-width="1.1"/>
<line x1="502.20" y1="1227.40" x2="502.20" y2="1373.50" stroke="#b8b8b8" stroke-width="1.1"/>
<line x1="520.75" y1="1227.40" x2="520.75" y2="1373.50" stroke="#b8b8b8" stroke-width="1.1"/>
<line x1="539.30" y1="1227.40" x2="539.30" y2="1373.50" stroke="#b8b8b8" stroke-width="1.1"/>
<line x1="557.85" y1="1227.40" x2="557.85" y2="1373.50" stroke="#b8b8b8" stroke-width="1.1"/>
<line x1="576.40" y1="1227.40" x2="576.40" y2="1373.50" stroke="#b8b8b8" stroke-width="1.1"/>
<line x1="594.95" y1="1227.40" x2="594.95" y2="1373.50" stroke="#b8b8b8" stroke-width="1.1"/>
<line x1="613.50" y1="1227.40" x2="613.50" y2="1373.50" stroke="#b8b8b8" stroke-width="1.1"/>
<line x1="632.05" y1="1227.40" x2="632.05" y2="1373.50" stroke="#b8b8b8" stroke-width="1.1"/>
<line x1="650.60" y1="1227.40" x2="650.60" y2="1373.50" stroke="#b8b8b8" stroke-width="1.1"/>
<line x1="669.15" y1="1227.40" x2="669.15" y2="1373.50" stroke="#b8b8b8" stroke-width="1.1"/>
<line x1="687.70" y1="1227.40" x2="687.70" y2="1373.50" stroke="#b8b8b8" stroke-width="1.1"/>
<line x1="706.25" y1="1227.40" x2="706.25" y2="1373.50" stroke="#b8b8b8" stroke-width="1.1"/>
<line x1="724.80" y1="1227.40" x2="724.80" y2="1373.50" stroke="#b8b8b8" stroke-width="1.1"/>
<line x1="743.35" y1="1227.40" x2="743.35" y2="1373.50" stroke="#b8b8b8" stroke-width="1.1"/>
<line x1="260.60" y1="1222.20" x2="362.40" y2="1222.20" stroke="#000" stroke-width="1.105"/>
<line x1="362.40" y1="1222.20" x2="362.40" y2="1227.40" stroke="#000" stroke-width="1.105"/>
<line x1="362.40" y1="1227.40" x2="398.00" y2="1227.40" stroke="#000" stroke-width="1.02"/>
<line x1="398.00" y1="1227.40" x2="756.40" y2="1227.40" stroke="#b8b8b8" stroke-width="1.2"/>
<line x1="260.60" y1="1222.20" x2="260.60" y2="1360.30" stroke="#000" stroke-width="1.105"/>
<line x1="756.40" y1="1217.40" x2="756.40" y2="1403.20" stroke="#000" stroke-width="1.105"/>
<rect x="240.00" y="1360.30" width="142.20" height="22.90" fill="none" stroke="#000" stroke-width="1.105"/>
<line x1="382.20" y1="1373.50" x2="756.40" y2="1373.50" stroke="#000" stroke-width="1.105"/>
<path d="M267.5,1372 V1396 M286.4,1372 V1396 M264.5,1397.5 Q266,1396 272,1396 H277 M282,1396 H287 Q293,1396 294.5,1397.5 M266,1398.5 H271 M283,1398.5 H288 M277,1396 V1400 L273,1401 M282,1396 V1400 L286,1401" fill="none" stroke="#666" stroke-width="1.0"/>
<line x1="220.00" y1="478.50" x2="724.60" y2="478.50" stroke="#7a7a7a" stroke-width="1"/>
<line x1="708.00" y1="408.30" x2="1248.70" y2="408.30" stroke="#7a7a7a" stroke-width="1"/>
<line x1="914.50" y1="174.00" x2="914.50" y2="550.50" stroke="#7a7a7a" stroke-width="1.2"/>
<line x1="419.60" y1="193.00" x2="419.60" y2="1393.30" stroke="#7a7a7a" stroke-width="1"/>
<line x1="220.00" y1="930.90" x2="1249.00" y2="930.90" stroke="#7a7a7a" stroke-width="1"/>
<line x1="1091.50" y1="534.00" x2="1091.50" y2="1352.00" stroke="#7a7a7a" stroke-width="1.1"/>
<line x1="805.00" y1="1217.30" x2="1246.70" y2="1217.30" stroke="#7a7a7a" stroke-width="1"/>
<line x1="240.00" y1="1346.30" x2="776.40" y2="1346.30" stroke="#7a7a7a" stroke-width="1"/>
<line x1="220.00" y1="498.50" x2="260.00" y2="458.50" stroke="#7a7a7a" stroke-width="1"/>
<line x1="684.40" y1="498.50" x2="724.40" y2="458.50" stroke="#7a7a7a" stroke-width="1"/>
<line x1="707.40" y1="428.30" x2="747.40" y2="388.30" stroke="#7a7a7a" stroke-width="1"/>
<line x1="1210.00" y1="428.30" x2="1250.00" y2="388.30" stroke="#7a7a7a" stroke-width="1"/>
<line x1="894.50" y1="173.30" x2="934.50" y2="213.30" stroke="#7a7a7a" stroke-width="1"/>
<line x1="894.50" y1="511.00" x2="934.50" y2="551.00" stroke="#7a7a7a" stroke-width="1"/>
<line x1="399.60" y1="511.30" x2="439.60" y2="551.30" stroke="#7a7a7a" stroke-width="1"/>
<line x1="399.60" y1="534.50" x2="439.60" y2="574.50" stroke="#7a7a7a" stroke-width="1"/>
<line x1="1071.50" y1="534.00" x2="1111.50" y2="574.00" stroke="#7a7a7a" stroke-width="1"/>
<line x1="1071.50" y1="1314.00" x2="1111.50" y2="1354.00" stroke="#7a7a7a" stroke-width="1"/>
<line x1="220.60" y1="950.90" x2="260.60" y2="910.90" stroke="#7a7a7a" stroke-width="1"/>
<line x1="343.50" y1="950.90" x2="383.50" y2="910.90" stroke="#7a7a7a" stroke-width="1"/>
<line x1="1210.60" y1="950.50" x2="1250.60" y2="910.50" stroke="#7a7a7a" stroke-width="1"/>
<line x1="804.40" y1="1237.30" x2="844.40" y2="1197.30" stroke="#7a7a7a" stroke-width="1"/>
<line x1="1206.70" y1="1237.30" x2="1246.70" y2="1197.30" stroke="#7a7a7a" stroke-width="1"/>
<line x1="240.60" y1="1366.40" x2="280.60" y2="1326.40" stroke="#7a7a7a" stroke-width="1"/>
<line x1="736.40" y1="1366.30" x2="776.40" y2="1326.30" stroke="#7a7a7a" stroke-width="1"/>
<line x1="399.60" y1="1129.50" x2="439.60" y2="1169.50" stroke="#7a7a7a" stroke-width="1"/>
<line x1="399.60" y1="1207.00" x2="439.60" y2="1247.00" stroke="#7a7a7a" stroke-width="1"/>
<line x1="399.60" y1="1353.60" x2="439.60" y2="1393.60" stroke="#7a7a7a" stroke-width="1"/>
<line x1="400.00" y1="173.30" x2="440.00" y2="213.30" stroke="#7a7a7a" stroke-width="1"/>
<rect x="521.20" y="352.20" width="51.50" height="52.30" fill="none" stroke="#bdbdbd" stroke-width="1.0"/>
<text transform="matrix(0.36088 0.00000 0.00000 0.53569 523.46 397.26)" font-size="100" fill="#ababab">01</text>
<rect x="1099.10" y="226.30" width="51.80" height="51.30" fill="none" stroke="#bdbdbd" stroke-width="1.0"/>
<text transform="matrix(0.40876 0.00000 0.00000 0.53428 1101.36 270.37)" font-size="100" fill="#ababab">03</text>
<rect x="262.20" y="596.20" width="52.40" height="51.20" fill="none" stroke="#bdbdbd" stroke-width="1.0"/>
<text transform="matrix(0.40978 0.00000 0.00000 0.53145 265.36 640.17)" font-size="100" fill="#ababab">02</text>
<rect x="957.20" y="789.30" width="51.60" height="51.30" fill="none" stroke="#bdbdbd" stroke-width="1.0"/>
<text transform="matrix(0.40288 0.00000 0.00000 0.53428 959.29 833.27)" font-size="100" fill="#ababab">04</text>
<rect x="658.25" y="1265.50" width="51.25" height="50.75" fill="none" stroke="#bdbdbd" stroke-width="1.0"/>
<text transform="matrix(0.41505 0.00000 0.00000 0.52650 660.34 1308.97)" font-size="100" fill="#ababab">05</text>
<text transform="matrix(0.00000 -0.44194 0.56537 0.00000 409.43 399.31)" font-size="100" fill="#666666">173</text>
<text transform="matrix(0.45397 0.00000 0.00000 0.53004 433.73 466.97)" font-size="100" fill="#666666">238</text>
<text transform="matrix(0.00000 -0.43871 0.55265 0.00000 902.55 399.99)" font-size="100" fill="#666666">173</text>
<text transform="matrix(0.45933 0.00000 0.00000 0.55548 939.70 398.74)" font-size="100" fill="#666666">257</text>
<text transform="matrix(-0.19109 0.00000 0.00000 -0.20212 1200.21 335.90)" font-size="100" fill="#000">90x90</text>
<text transform="matrix(0.13169 0.00000 0.00000 0.12580 932.64 216.57)" font-size="100" fill="#000">60x50</text>
<text transform="matrix(-0.27002 0.00000 0.00000 -0.26431 813.15 279.06)" font-size="100" fill="#000">80L</text>
<text transform="matrix(0.00000 -0.22136 0.27882 0.00000 276.21 302.94)" font-size="100" fill="#000">garderoba</text>
<text transform="matrix(0.00000 0.38767 -0.37143 0.00000 319.56 565.32)" font-size="100" fill="#000">***</text>
<text transform="matrix(0.39409 0.00000 0.00000 0.43312 738.21 311.85)" font-size="100" font-weight="bold" fill="#000">≈</text>
<text transform="matrix(0.00000 -0.39409 0.42038 0.00000 350.68 708.79)" font-size="100" font-weight="bold" fill="#000">≈</text>
<text transform="matrix(0.33600 0.00000 0.00000 0.40141 588.82 606.10)" font-size="100" fill="#666666">+4.76</text>
<text transform="matrix(0.33970 0.00000 0.00000 0.40141 579.60 650.30)" font-size="100" fill="#666666">+83.42</text>
<text transform="matrix(0.00000 -0.26635 0.27527 0.00000 308.92 816.77)" font-size="100" fill="#000">5L</text>
<text transform="matrix(0.00000 -0.44654 0.56113 0.00000 409.14 871.67)" font-size="100" fill="#666666">305</text>
<text transform="matrix(0.45405 0.00000 0.00000 0.55972 276.13 920.04)" font-size="100" fill="#666666">63</text>
<text transform="matrix(0.00000 0.25551 -0.24286 0.00000 1166.80 821.55)" font-size="100" fill="#a0a0a0">***</text>
<text transform="matrix(0.45008 0.00000 0.00000 0.56582 759.39 920.90)" font-size="100" fill="#666666">444</text>
<text transform="matrix(0.00000 -0.45039 0.56537 0.00000 1081.13 982.71)" font-size="100" fill="#666666">400</text>
<text transform="matrix(0.45905 0.00000 0.00000 0.55124 987.70 1206.75)" font-size="100" fill="#666666">206</text>
<text transform="matrix(0.00000 -0.45209 0.56631 0.00000 407.73 1326.37)" font-size="100" fill="#666666">75</text>
<text transform="matrix(0.45145 0.00000 0.00000 0.55972 437.94 1334.74)" font-size="100" fill="#666666">254.5</text>
</svg>
</body></html>
